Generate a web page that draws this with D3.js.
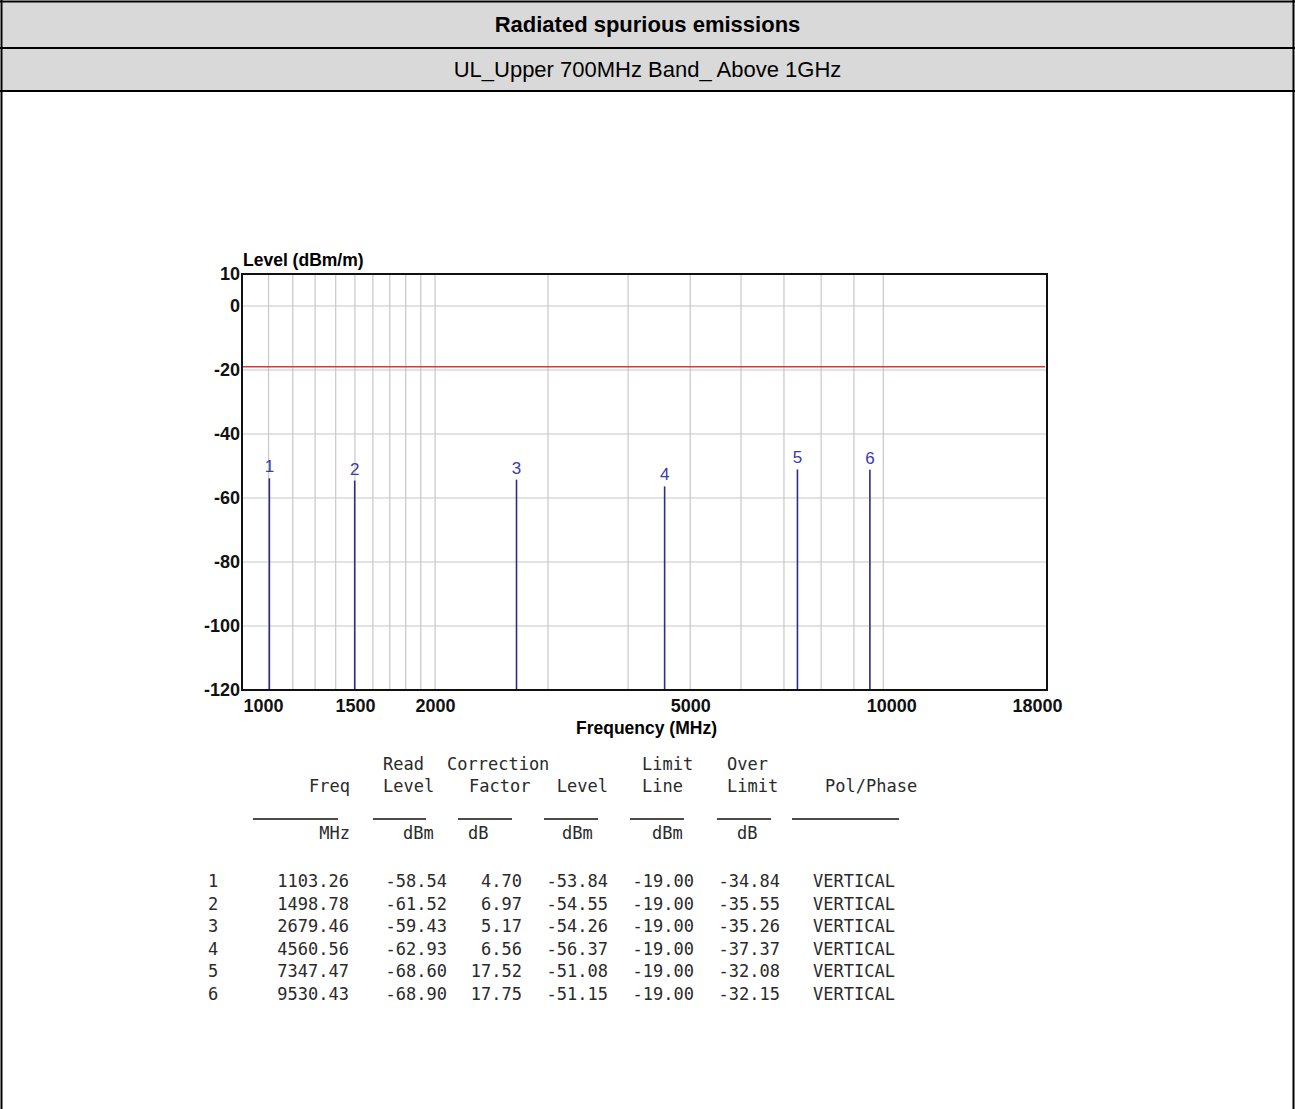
<!DOCTYPE html>
<html>
<head>
<meta charset="utf-8">
<script src="https://cdn.jsdelivr.net/npm/d3@7"></script>
<style>
  body { margin: 0; background: #fff; }
  svg { display: block; }
</style>
</head>
<body>
<svg width="1295" height="1109"></svg>
<script>
// marker data
const markerIds = [1, 2, 3, 4, 5, 6];
const freqs = [1103.26, 1498.78, 2679.46, 4560.56, 7347.47, 9530.43];
const readLevels = [-58.54, -61.52, -59.43, -62.93, -68.60, -68.90];
const corrFactors = [4.70, 6.97, 5.17, 6.56, 17.52, 17.75];
const levels = [-53.84, -54.55, -54.26, -56.37, -51.08, -51.15];
const limitLines = [-19.00, -19.00, -19.00, -19.00, -19.00, -19.00];
const overLimits = [-34.84, -35.55, -35.26, -37.37, -32.08, -32.15];
const polarisations = ["VERTICAL", "VERTICAL", "VERTICAL", "VERTICAL", "VERTICAL", "VERTICAL"];

const limitLevel = -19;
const xTicks = [1000, 1500, 2000, 5000, 10000, 18000];
const xGrid = [1100, 1200, 1300, 1400, 1500, 1600, 1700, 1800, 1900, 2000,
               3000, 4000, 5000, 6000, 7000, 8000, 9000, 10000];
const yTicks = [10, 0, -20, -40, -60, -80, -100, -120];

const svg = d3.select("svg");
const W = 1295, H = 1109;
const sans = "'Liberation Sans', Arial, sans-serif";
const mono = "'DejaVu Sans Mono', Consolas, monospace";

// ---- header boxes
svg.append("rect").attr("x", 1).attr("y", 1).attr("width", W - 2).attr("height", 47).attr("fill", "#d9d9d9");
svg.append("rect").attr("x", 1).attr("y", 48).attr("width", W - 2).attr("height", 43).attr("fill", "#d9d9d9");
[1.5, 48, 91].forEach(yy => {
    svg.append("line").attr("x1", 0).attr("x2", W).attr("y1", yy).attr("y2", yy)
        .attr("stroke", "#000").attr("stroke-width", 2);
});
[1.5, W - 1.5].forEach(xx => {
    svg.append("line").attr("x1", xx).attr("x2", xx).attr("y1", 0).attr("y2", H)
        .attr("stroke", "#000").attr("stroke-width", 2);
});
svg.append("text").attr("x", W / 2).attr("y", 32).attr("text-anchor", "middle")
    .style("font-family", sans).style("font-size", "22px").style("font-weight", "bold")
    .text("Radiated spurious emissions");
svg.append("text").attr("x", W / 2).attr("y", 77).attr("text-anchor", "middle")
    .style("font-family", sans).style("font-size", "22px")
    .text("UL_Upper 700MHz Band_ Above 1GHz");

// ---- plot
const pLeft = 242, pTop = 274, pRight = 1047, pBottom = 690;
const x = d3.scaleLog().domain([1000, 18000]).range([pLeft, pRight]);
const y = d3.scaleLinear().domain([-120, 10]).range([pBottom, pTop]);

const grid = svg.append("g");
grid.selectAll(".vg").data(xGrid).enter().append("line")
    .attr("x1", d => x(d)).attr("x2", d => x(d)).attr("y1", pTop).attr("y2", pBottom)
    .attr("stroke", "#c8c8c8").attr("stroke-width", 1.2);
grid.selectAll(".hg").data(yTicks.slice(1, -1)).enter().append("line")
    .attr("x1", pLeft).attr("x2", pRight).attr("y1", d => y(d)).attr("y2", d => y(d))
    .attr("stroke", "#c8c8c8").attr("stroke-width", 1.2);

// limit line
svg.append("line").attr("x1", pLeft).attr("x2", pRight - 2)
    .attr("y1", y(limitLevel)).attr("y2", y(limitLevel))
    .attr("stroke", "#d23a3a").attr("stroke-width", 1.6);

// markers
const marks = svg.append("g");
marks.selectAll("line").data(freqs).enter().append("line")
    .attr("x1", d => x(d)).attr("x2", d => x(d))
    .attr("y1", y(-120)).attr("y2", (d, i) => y(levels[i]))
    .attr("stroke", "#2d2d86").attr("stroke-width", 1.6);
marks.selectAll("text").data(freqs).enter().append("text")
    .attr("x", d => x(d)).attr("y", (d, i) => y(levels[i]) - 6)
    .attr("text-anchor", "middle")
    .style("font-family", sans).style("font-size", "17px").attr("fill", "#3a3aa8")
    .text((d, i) => markerIds[i]);

// frame
svg.append("rect").attr("x", pLeft).attr("y", pTop).attr("width", pRight - pLeft).attr("height", pBottom - pTop)
    .attr("fill", "none").attr("stroke", "#111").attr("stroke-width", 2);

// axes
const xAxis = svg.append("g").attr("transform", "translate(0," + pBottom + ")")
    .call(d3.axisBottom(x).tickValues(xTicks).tickFormat(d => String(d)).tickSize(0).tickPadding(9));
const yAxis = svg.append("g").attr("transform", "translate(" + pLeft + ",0)")
    .call(d3.axisLeft(y).tickValues(yTicks).tickFormat(d => String(d)).tickSize(0).tickPadding(2));
[xAxis, yAxis].forEach(a => {
    a.select(".domain").remove();
    a.selectAll("text").style("font-family", sans).style("font-size", "18px")
        .style("font-weight", "bold").attr("fill", "#111");
});
xAxis.selectAll("text").filter(d => d === 1000).attr("text-anchor", "start").attr("dx", 1);
xAxis.selectAll("text").filter(d => d === 18000).attr("dx", -10);
xAxis.selectAll("text").filter(d => d === 10000).attr("dx", 8);

svg.append("text").attr("x", pLeft + 1).attr("y", 266)
    .style("font-family", sans).style("font-size", "17.5px").style("font-weight", "bold")
    .text("Level (dBm/m)");
svg.append("text").attr("x", (pLeft + pRight) / 2 + 2).attr("y", 734).attr("text-anchor", "middle")
    .style("font-family", sans).style("font-size", "17.5px").style("font-weight", "bold")
    .text("Frequency (MHz)");

// ---- report table
const tbl = svg.append("g").style("font-family", mono).style("font-size", "17px").attr("fill", "#2a2a2a");
const put = (txt, xx, yy, anchor) => tbl.append("text").attr("x", xx).attr("y", yy)
    .attr("text-anchor", anchor || "start").style("white-space", "pre").text(txt);

// header rows
put("Read", 383, 770); put("Correction", 447, 770); put("Limit", 642, 770); put("Over", 727, 770);
put("Freq", 350, 792, "end"); put("Level", 383, 792); put("Factor", 469, 792);
put("Level", 608, 792, "end"); put("Line", 642, 792); put("Limit", 727, 792); put("Pol/Phase", 825, 792);
[[253, 338], [373, 426], [458, 512], [544, 598], [630, 684], [717, 771], [792, 899]].forEach(s => {
    tbl.append("line").attr("x1", s[0]).attr("x2", s[1]).attr("y1", 819).attr("y2", 819)
        .attr("stroke", "#111").attr("stroke-width", 1.5);
});
put("MHz", 350, 839, "end"); put("dBm", 403, 839); put("dB", 468, 839);
put("dBm", 562, 839); put("dBm", 652, 839); put("dB", 737, 839);

// data rows
const f2 = v => v.toFixed(2);
const rowY = d3.scaleLinear().domain([0, 1]).range([887, 909.6]);
markerIds.forEach((id, i) => {
    const yy = rowY(i);
    put(String(id), 208, yy);
    put(f2(freqs[i]), 349, yy, "end");
    put(f2(readLevels[i]), 447, yy, "end");
    put(f2(corrFactors[i]), 522, yy, "end");
    put(f2(levels[i]), 608, yy, "end");
    put(f2(limitLines[i]), 694, yy, "end");
    put(f2(overLimits[i]), 780, yy, "end");
    put(polarisations[i], 813, yy);
});
</script>
</body>
</html>
